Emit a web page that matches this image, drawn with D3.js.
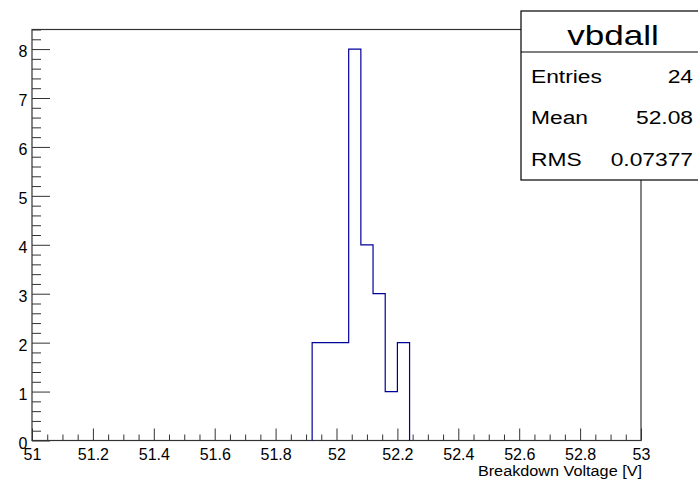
<!DOCTYPE html>
<html>
<head>
<meta charset="utf-8">
<script src="https://cdn.jsdelivr.net/npm/d3@7"></script>
<style>
  body { margin: 0; background: #fff; }
  svg { display: block; font-family: "Liberation Sans", Arial, sans-serif; }
</style>
</head>
<body>
<script>
// histogram "vbdall" : 50 bins of 0.04 V between 51 and 53, only non-empty bins listed
var binStart = [51.92, 51.96, 52.00, 52.04, 52.08, 52.12, 52.16, 52.20];
var binCount = [2, 2, 2, 8, 4, 3, 1, 2];
var binWidth = 0.04;

var xMajorTicks = [51, 51.2, 51.4, 51.6, 51.8, 52, 52.2, 52.4, 52.6, 52.8, 53];
var yMajorTicks = [0, 1, 2, 3, 4, 5, 6, 7, 8];

var statsTitle = "vbdall";
var statsNames = ["Entries", "Mean", "RMS"];
var statsValues = ["24", "52.08", "0.07377"];

var xTitle = "Breakdown Voltage [V]";

/*==================== layout ====================*/
var W = 698, H = 479;
var padL = 32, padR = 641, padT = 29.5, padB = 440.5;

var body = d3.select("body");
var svg = body.append("svg").attr("width", W).attr("height", H);

var x = d3.scaleLinear().domain([51, 53]).range([padL, padR]);
var y = d3.scaleLinear().domain([0, 8.4]).range([padB, padT]);

// minor ticks
var xMinor = d3.range(51, 53.0001, 0.05).filter(function(v){
  return Math.abs(v*5 - Math.round(v*5)) > 1e-6; });
var yMinor = d3.range(0, 8.4001, 0.2).filter(function(v){
  return Math.abs(v - Math.round(v)) > 1e-6; });

var axisColor = "#333";
var fontStack = "Liberation Sans, Arial, sans-serif";

var gxMinor = svg.append("g").attr("transform", "translate(0," + padB + ")")
  .call(d3.axisBottom(x).tickValues(xMinor).tickSize(-6).tickFormat(""));
var gx = svg.append("g").attr("transform", "translate(0," + padB + ")")
  .call(d3.axisBottom(x).tickValues(xMajorTicks).tickSize(-12).tickFormat(d3.format("")));
gx.selectAll("text")
  .attr("y", 19.5).attr("dy", 0)
  .attr("fill", "#000")
  .attr("font-family", fontStack)
  .style("font-size", "16px");

var gyMinor = svg.append("g").attr("transform", "translate(" + padL + ",0)")
  .call(d3.axisLeft(y).tickValues(yMinor).tickSize(-9).tickFormat(""));
var gy = svg.append("g").attr("transform", "translate(" + padL + ",0)")
  .call(d3.axisLeft(y).tickValues(yMajorTicks).tickSize(-18).tickFormat(d3.format("d")));
gy.selectAll("text")
  .attr("x", -4.5).attr("dy", 0).attr("y", 7.8)
  .attr("fill", "#000")
  .attr("font-family", fontStack)
  .style("font-size", "16px");

[gxMinor, gx, gyMinor, gy].forEach(function(g){
  g.selectAll(".domain").remove();
  g.selectAll("line").attr("stroke", axisColor);
});

// frame
svg.append("rect")
  .attr("x", padL).attr("y", padT)
  .attr("width", padR - padL).attr("height", padB - padT)
  .attr("fill", "none").attr("stroke", axisColor).attr("stroke-width", 1.2);

// histogram outline
var pts = [[binStart[0], 0]];
binStart.forEach(function(b, i){
  pts.push([b, binCount[i]]);
  pts.push([b + binWidth, binCount[i]]);
});
pts.push([binStart[binStart.length - 1] + binWidth, 0]);

var line = d3.line().x(function(d){ return x(d[0]); }).y(function(d){ return y(d[1]); });
svg.append("path")
  .attr("d", line(pts))
  .attr("fill", "none")
  .attr("stroke", "#000099")
  .attr("stroke-width", 1.2);

// x title
svg.append("text")
  .attr("transform", "translate(642,475.5) scale(1.12,1)")
  .attr("text-anchor", "end")
  .style("font-size", "14.5px")
  .text(xTitle);

/*==================== stats box ====================*/
var bx = 521, by = 11, bw = 190, bh = 169;
var stats = svg.append("g");
stats.append("rect")
  .attr("x", bx).attr("y", by).attr("width", bw).attr("height", bh)
  .attr("fill", "#fff").attr("stroke", "#000").attr("stroke-width", 1.2);
stats.append("line")
  .attr("x1", bx).attr("x2", bx + bw).attr("y1", 52).attr("y2", 52)
  .attr("stroke", "#000").attr("stroke-width", 1);
stats.append("text")
  .attr("transform", "translate(613,45) scale(1.3,1)")
  .attr("text-anchor", "middle")
  .style("font-size", "27px")
  .text(statsTitle);

var rowY = [82.5, 124, 165.5];
statsNames.forEach(function(n, i){
  stats.append("text")
    .attr("transform", "translate(531," + rowY[i] + ") scale(1.2,1)")
    .style("font-size", "19px")
    .text(n);
  stats.append("text")
    .attr("transform", "translate(693," + rowY[i] + ") scale(1.2,1)")
    .attr("text-anchor", "end")
    .style("font-size", "19px")
    .text(statsValues[i]);
});
</script>
</body>
</html>
